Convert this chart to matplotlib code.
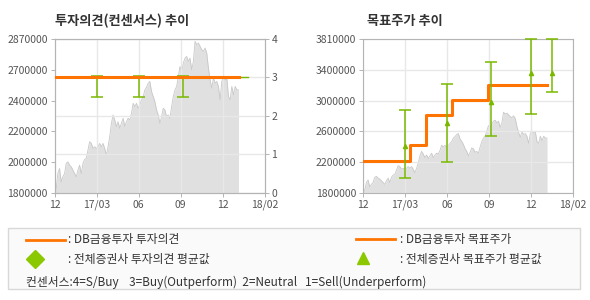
import numpy as np
import matplotlib.pyplot as plt
from matplotlib.lines import Line2D
from matplotlib.patches import Rectangle

plt.rcParams['font.family'] = ['Noto Sans CJK KR', 'DejaVu Sans']

## the data
xlabels = ['12', '17/03', '06', '09', '12', '18/02']

# daily close (thousand won)
price = [1865, 1830, 1935, 1970, 1877, 1912, 1935, 2005, 2016, 1993,
         1981, 1958, 1935, 1912, 1958, 1993, 1935, 2005, 2033, 2040,
         2098, 2156, 2144, 2109, 2121, 2109, 2121, 2144, 2121, 2144,
         2109, 2063, 2121, 2191, 2284, 2342, 2307, 2261, 2295, 2249,
         2284, 2319, 2261, 2295, 2319, 2307, 2354, 2423, 2400, 2423,
         2388, 2412, 2447, 2470, 2516, 2535, 2563, 2575, 2505, 2470,
         2435, 2377, 2342, 2284, 2330, 2388, 2377, 2330, 2342, 2319,
         2400, 2470, 2516, 2540, 2609, 2679, 2644, 2702, 2737, 2749,
         2714, 2737, 2656, 2714, 2854, 2830, 2842, 2819, 2796, 2784,
         2807, 2772, 2668, 2586, 2528, 2598, 2563, 2575, 2540, 2447,
         2575, 2609, 2586, 2598, 2470, 2447, 2540, 2482, 2540, 2516,
         2516]
price_end = 4.38

# investment opinion (right axis of left chart)
op_value = 3
op_end = 4.39
avg_end = 4.6
op_x = [1.0, 2.0, 3.05]
op_low = [2.5, 2.5, 2.5]
op_high = [3.04, 3.04, 3.04]
op_mean = [3.0, 3.0, 3.0]

# target price
tp_start = [0, 1.13, 1.49, 2.11, 2.98]
tp_value = [2220000, 2430000, 2820000, 3010000, 3210000]
tp_end = 4.39
tp_x = [1.0, 2.0, 3.04, 4.0, 4.51]
tp_low = [2000000, 2200000, 2540000, 2830000, 3115000]
tp_high = [2880000, 3220000, 3510000, 3810000, 3810000]
tp_mean = [2410000, 2710000, 2990000, 3360000, 3370000]

left_range = (1800000, 2870000)
left_labels = ['1800000', '2000000', '2200000', '2400000', '2700000', '2870000']
right_range = (1800000, 3810000)
right_labels = ['1800000', '2200000', '2600000', '3000000', '3400000', '3810000']

## colors
orange = '#ff7300'
green = '#7ab800'
green_mk = '#8cc800'
grid = '#e8e8e8'
spine = '#b4b4b4'
txt = '#333333'
tick_txt = '#555555'

fig = plt.figure(figsize=(5.9, 3.0), dpi=100)

price = np.array(price) * 1000
px = np.linspace(0, price_end, len(price))


def style(ax):
    for s in ax.spines.values():
        s.set_color(spine)
        s.set_linewidth(0.8)
    ax.tick_params(length=3, width=0.7, color=spine, labelcolor=tick_txt,
                   labelsize=7.5, pad=2)
    ax.set_xlim(0, 5)
    ax.set_xticks(range(6))
    ax.set_xticklabels(xlabels)


## left chart: opinion
ax1 = fig.add_axes([0.0924, 0.357, 0.356, 0.513])
style(ax1)
ax1.fill_between(px, price, left_range[0], color='#e0e0e0', lw=0)
ax1.plot(px, price, color='#c8c8c8', lw=0.6)
ax1.set_ylim(*left_range)
ax1.set_yticks(np.linspace(left_range[0], left_range[1], 6))
ax1.set_yticklabels(left_labels)

ax1b = ax1.twinx()
style(ax1b)
ax1b.set_ylim(0, 4)
ax1b.set_yticks(range(5))
ax1b.set_axisbelow(True)
ax1b.grid(axis='y', color=grid, lw=1)
for x in range(1, 5):
    ax1b.axvline(x, color=grid, lw=1, zorder=0.5)
ax1b.plot([0, avg_end], [op_value, op_value], color=green, lw=1, zorder=2)
ax1b.errorbar(op_x, op_mean,
              yerr=[np.subtract(op_mean, op_low), np.subtract(op_high, op_mean)],
              fmt='none', ecolor=green, elinewidth=1.1, capsize=4.5,
              capthick=1.1, zorder=2)
ax1b.plot([0, op_end], [op_value, op_value], color=orange, lw=2.2, zorder=3)

fig.text(0.0924, 0.931, '투자의견(컨센서스) 추이', fontsize=9.5,
         fontweight='bold', color=txt, va='center')

## right chart: target price
ax2 = fig.add_axes([0.6153, 0.357, 0.356, 0.513])
style(ax2)
ax2.set_axisbelow('line')
ax2.grid(color=grid, lw=1)
ax2.fill_between(px, price, right_range[0], color='#e0e0e0', lw=0)
ax2.plot(px, price, color='#c8c8c8', lw=0.6, zorder=1.2)
ax2.set_ylim(*right_range)
ax2.set_yticks(np.linspace(right_range[0], right_range[1], 6))
ax2.set_yticklabels(right_labels)
ax2.step(tp_start + [tp_end], tp_value + [tp_value[-1]], where='post',
         color=orange, lw=2.2, zorder=3)
ax2.errorbar(tp_x, tp_mean,
             yerr=[np.subtract(tp_mean, tp_low), np.subtract(tp_high, tp_mean)],
             fmt='none', ecolor=green, elinewidth=1.1, capsize=4.5,
             capthick=1.1, zorder=4, clip_on=False)
ax2.plot(tp_x, tp_mean, ls='none', marker='^', ms=3, color=green, zorder=4)

fig.text(0.622, 0.931, '목표주가 추이', fontsize=9.5,
         fontweight='bold', color=txt, va='center')

## legend box
W, H = 590.0, 300.0
fig.add_artist(Rectangle((8 / W, 1 - 289 / H), 572 / W, 61 / H,
                         transform=fig.transFigure, fc='#fafafa',
                         ec='#d8d8d8', lw=1))
fig.add_artist(Line2D([26 / W, 65 / W], [1 - 240 / H] * 2, color=orange,
                      lw=2, transform=fig.transFigure))
fig.add_artist(Line2D([356 / W, 395 / W], [1 - 239 / H] * 2, color=orange,
                      lw=2, transform=fig.transFigure))
fig.add_artist(Line2D([35 / W], [1 - 259 / H], ls='none', marker='D', ms=9,
                      color=green_mk, transform=fig.transFigure))
fig.add_artist(Line2D([363 / W], [1 - 258 / H], ls='none', marker='^', ms=9,
                      color=green_mk, transform=fig.transFigure))
fs = 8.5
fig.text(68 / W, 1 - 240 / H, ': DB금융투자 투자의견', fontsize=fs, color=txt, va='center')
fig.text(68 / W, 1 - 259 / H, ': 전체증권사 투자의견 평균값', fontsize=fs, color=txt, va='center')
fig.text(400 / W, 1 - 240 / H, ': DB금융투자 목표주가', fontsize=fs, color=txt, va='center')
fig.text(400 / W, 1 - 259 / H, ': 전체증권사 목표주가 평균값', fontsize=fs, color=txt, va='center')
fig.text(26 / W, 1 - 282 / H,
         '컨센서스:4=S/Buy    3=Buy(Outperform)  2=Neutral   1=Sell(Underperform)',
         fontsize=fs, color=txt, va='center')

fig.savefig('out.png', dpi=100)
